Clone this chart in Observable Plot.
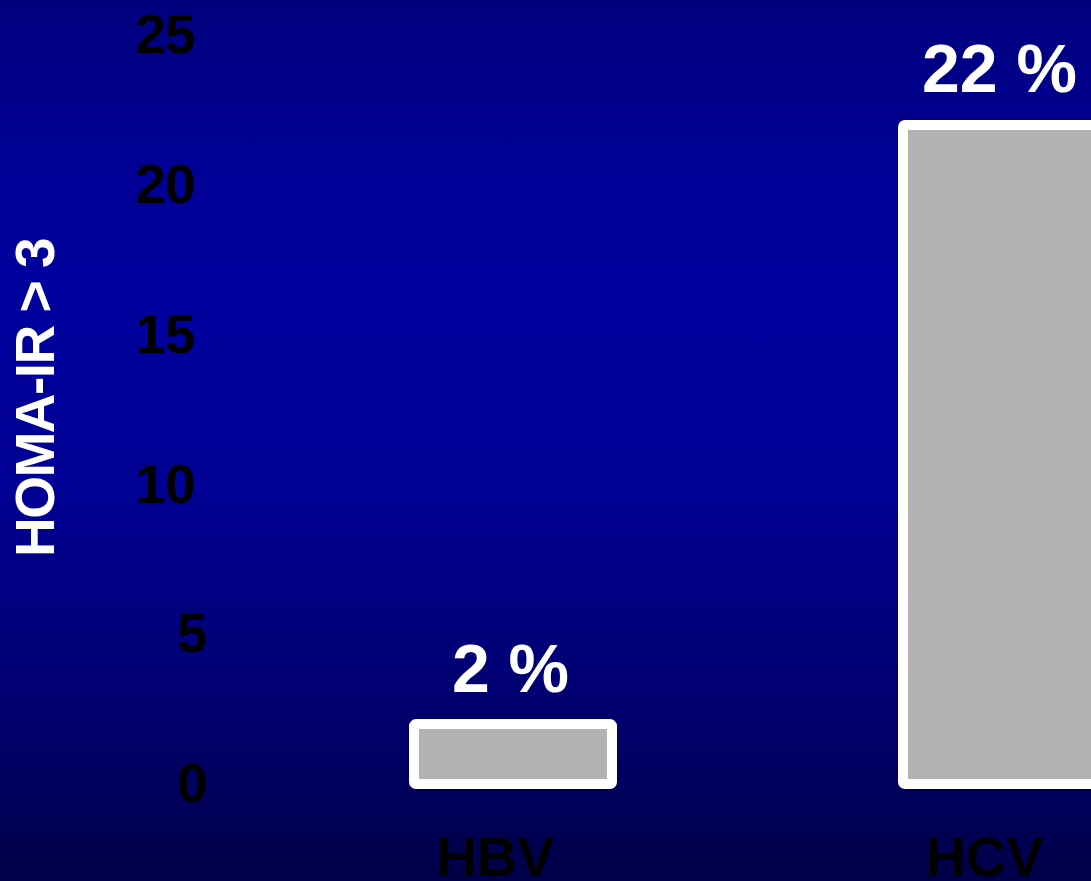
<!DOCTYPE html>
<html>
<head>
<meta charset="utf-8">
<script src="https://cdn.jsdelivr.net/npm/d3@7"></script>
<script src="https://cdn.jsdelivr.net/npm/@observablehq/plot@0.6"></script>
<style>
  html, body { margin: 0; padding: 0; background: #000060; overflow: hidden; }
  #chart svg { display: block; }
  .tight-ticks text { letter-spacing: -1px; }
  .y-title text { letter-spacing: -1.5px; }
</style>
</head>
<body>
<div id="chart"></div>
<script>
// Share of patients with HOMA-IR > 3, by hepatitis group
const groups = ["HBV", "HCV"];
const percents = [2, 22];
const yTicksWide = [10, 15, 20, 25];
const yTicksNarrow = [0, 5];
const yLabel = "HOMA-IR > 3";

const data = groups.map((g, i) => ({group: g, value: percents[i]}));

const W = 1091, H = 881;

const chart = Plot.plot({
  width: W,
  height: H,
  marginTop: 35,
  marginBottom: 97,
  marginLeft: 200,
  marginRight: 0,
  style: {
    fontFamily: "'Liberation Sans', Arial, sans-serif",
    fontWeight: "bold",
    overflow: "hidden",
    background: "linear-gradient(to bottom, #00007e 0%, #000096 20%, #00009e 34%, #000094 55%, #000070 80%, #000048 100%)"
  },
  x: {type: "band", domain: groups, range: [123, 1392], padding: 0.595},
  y: {domain: [0, 25]},
  marks: [
    Plot.barY(data, {
      x: "group", y: "value",
      fill: "#b3b3b3", stroke: "white", strokeWidth: 10, rx: 2
    }),
    Plot.text(data, {
      x: "group", y: "value",
      text: d => `${d.value} %`,
      fill: "white", fontSize: 68, fontWeight: "bold",
      lineAnchor: "bottom", dy: -33, dx: -3
    }),
    Plot.axisY({
      ticks: yTicksWide, tickSize: 0, tickPadding: 6, label: null,
      fill: "black", fontSize: 55, fontWeight: "bold",
      className: "tight-ticks"
    }),
    Plot.axisY({
      ticks: yTicksNarrow, tickSize: 0, tickPadding: -6, label: null,
      fill: "black", fontSize: 55, fontWeight: "bold",
      className: "tight-ticks"
    }),
    Plot.axisX({
      tickSize: 0, tickPadding: 52, label: null, dx: -18,
      fill: "black", fontSize: 56, fontWeight: "bold"
    }),
    Plot.text([yLabel], {
      frameAnchor: "left", dx: -164, dy: -12,
      rotate: -90, fill: "white", fontSize: 55, fontWeight: "bold",
      textAnchor: "middle", lineAnchor: "middle",
      className: "y-title"
    })
  ]
});

document.getElementById("chart").appendChild(chart);
</script>
</body>
</html>
